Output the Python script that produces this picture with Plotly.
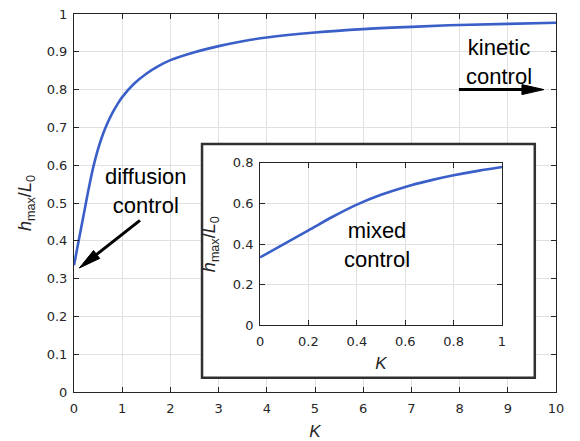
import plotly.graph_objects as go

# ---- data ----
K_main = [0, 0.1, 0.2, 0.3, 0.4, 0.5, 0.6, 0.7, 0.8, 0.9, 1.0, 1.25, 1.5, 1.75, 2.0, 2.5, 3.0, 3.5, 4.0, 5.0, 6.0, 7.0, 8.0, 9.0, 10.0]
h_main = [0.335, 0.402, 0.468, 0.535, 0.595, 0.643, 0.682, 0.713, 0.739, 0.761, 0.780, 0.816, 0.842, 0.862, 0.878, 0.899, 0.915, 0.928, 0.938, 0.951, 0.960, 0.966, 0.971, 0.974, 0.977]

K_inset = [0, 0.1, 0.2, 0.3, 0.4, 0.5, 0.6, 0.7, 0.8, 0.9, 1.0]
h_inset = [0.335, 0.402, 0.468, 0.535, 0.595, 0.643, 0.682, 0.713, 0.739, 0.761, 0.780]

main_xticks = [0, 1, 2, 3, 4, 5, 6, 7, 8, 9, 10]
main_xlabels = ["0", "1", "2", "3", "4", "5", "6", "7", "8", "9", "10"]
main_yticks = [0, 0.1, 0.2, 0.3, 0.4, 0.5, 0.6, 0.7, 0.8, 0.9, 1.0]
main_ylabels = ["0", "0.1", "0.2", "0.3", "0.4", "0.5", "0.6", "0.7", "0.8", "0.9", "1"]
inset_xticks = [0, 0.2, 0.4, 0.6, 0.8, 1.0]
inset_xlabels = ["0", "0.2", "0.4", "0.6", "0.8", "1"]
inset_yticks = [0, 0.2, 0.4, 0.6, 0.8]
inset_ylabels = ["0", "0.2", "0.4", "0.6", "0.8"]

BLUE = "#3a5fc8"
AX = "#262626"
GRID = "#e0e0e0"
FONT = "Liberation Sans, Arial, sans-serif"
TICKFONT = dict(family="DejaVu Sans", size=13, color=AX)

fig = go.Figure()
fig.add_trace(go.Scatter(x=K_main, y=h_main, mode="lines",
                         line=dict(color=BLUE, width=2.6, shape="spline", smoothing=1.0),
                         xaxis="x", yaxis="y", showlegend=False, hoverinfo="skip"))
fig.add_trace(go.Scatter(x=K_inset, y=h_inset, mode="lines",
                         line=dict(color=BLUE, width=2.6, shape="spline", smoothing=1.0),
                         xaxis="x2", yaxis="y2", showlegend=False, hoverinfo="skip"))

axis_common = dict(showline=True, linecolor=AX, linewidth=1, mirror="ticks",
                   ticks="inside", ticklen=5, tickcolor=AX, tickwidth=1,
                   showgrid=True, gridcolor=GRID, gridwidth=1, zeroline=False,
                   tickfont=TICKFONT, automargin=False)

ytitle = "<i>h</i><sub>max</sub>/<i>L</i><sub>0</sub>"
fig.update_layout(
    width=580, height=441,
    margin=dict(l=74, r=24, t=14, b=49, autoexpand=False),
    paper_bgcolor="white", plot_bgcolor="white",
    font=dict(family=FONT, color=AX),
    xaxis=dict(range=[0, 10], tickvals=main_xticks, ticktext=main_xlabels, domain=[0, 1],
               ticklabelstandoff=4,
               title=dict(text="<i>K</i>", font=dict(family=FONT, size=17, color=AX), standoff=10),
               **axis_common),
    yaxis=dict(range=[0, 1], tickvals=main_yticks, ticktext=main_ylabels, domain=[0, 1],
               ticklabelstandoff=3,
               title=dict(text=ytitle, font=dict(family=FONT, size=18, color=AX), standoff=10),
               **axis_common),
    xaxis2=dict(range=[0, 1], tickvals=inset_xticks, ticktext=inset_xlabels,
                domain=[0.386, 0.888], anchor="y2", ticklabelstandoff=4,
                title=dict(text="<i>K</i>", font=dict(family=FONT, size=17, color=AX), standoff=9),
                **axis_common),
    yaxis2=dict(range=[0, 0.8], tickvals=inset_yticks, ticktext=inset_ylabels,
                domain=[0.176, 0.606], anchor="x2", ticklabelstandoff=3,
                title=dict(text=ytitle, font=dict(family=FONT, size=18, color=AX), standoff=12),
                **axis_common),
)

# white inset frame (between main grid and traces)
fig.add_shape(type="rect", xref="x", yref="y", x0=2.656, x1=9.56, y0=0.038, y1=0.656,
              fillcolor="white", line=dict(color="#303030", width=2.5), layer="between")

ann_font = dict(family=FONT, size=22, color="black")
labels = [
    ("diffusion<br>control", 1.494, 0.533, "x", "y"),
    ("kinetic<br>control", 8.817, 0.873, "x", "y"),
    ("mixed<br>control", 0.485, 0.396, "x2", "y2"),
]
for txt, xx, yy, xr, yr in labels:
    fig.add_annotation(x=xx, y=yy, xref=xr, yref=yr, text=txt, showarrow=False,
                       font=ann_font, xanchor="center", yanchor="middle")

# arrows: shaft as line, head as slender filled triangle (pixel offsets from tip)
def arrow(tip_x, tip_y, tail_dx, tail_dy, head_len=22, head_half=5):
    L = (tail_dx ** 2 + tail_dy ** 2) ** 0.5
    ux, uy = tail_dx / L, tail_dy / L          # unit vector tip -> tail (pixels, y up)
    px, py = -uy, ux
    bx, by = ux * head_len, uy * head_len
    fig.add_shape(type="line", xref="x", yref="y", xsizemode="pixel", ysizemode="pixel",
                  xanchor=tip_x, yanchor=tip_y, x0=tail_dx, y0=tail_dy, x1=bx * 0.8, y1=by * 0.8,
                  line=dict(color="black", width=3))
    path = (f"M 0 0 L {bx + px * head_half:.2f} {by + py * head_half:.2f} "
            f"L {bx - px * head_half:.2f} {by - py * head_half:.2f} Z")
    fig.add_shape(type="path", xref="x", yref="y", xsizemode="pixel", ysizemode="pixel",
                  xanchor=tip_x, yanchor=tip_y, path=path,
                  fillcolor="black", line=dict(color="black", width=1))

arrow(0.11, 0.328, 60.7, 47.6)
arrow(9.75, 0.8, -85, 0)

fig.write_html("out.html")
